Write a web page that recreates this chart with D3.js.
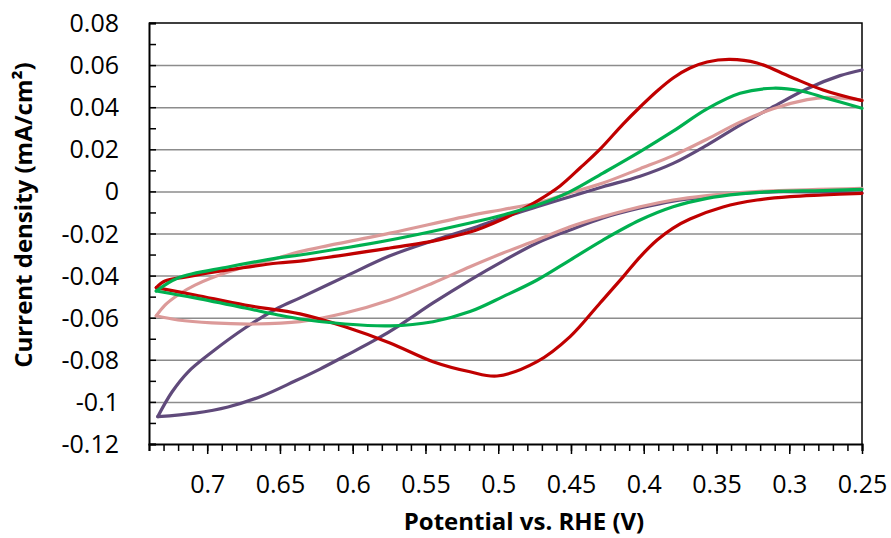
<!DOCTYPE html>
<html>
<head>
<meta charset="utf-8">
<script src="https://cdn.jsdelivr.net/npm/d3@7"></script>
<style>
  body { margin: 0; background: #fff; }
  text { font-family: "Open Sans", sans-serif; fill: #000; }
</style>
</head>
<body>
<svg id="chart" width="891" height="538"></svg>
<script>
// tick labels
const xTicks = [0.7, 0.65, 0.6, 0.55, 0.5, 0.45, 0.4, 0.35, 0.3, 0.25];
const yTicks = [0.08, 0.06, 0.04, 0.02, 0, -0.02, -0.04, -0.06, -0.08, -0.1, -0.12];

// CV loops, [potential V, current mA/cm2], forward scan 0.735 -> 0.25 then reverse
const redForward = [[0.735,-0.0457],[0.729,-0.0426],[0.7153,-0.0407],[0.6857,-0.0373],[0.6513,-0.0340],[0.6362,-0.0331],[0.5744,-0.0269],[0.5448,-0.0236],[0.5331,-0.0217],[0.5194,-0.0193],[0.5104,-0.0171],[0.4967,-0.0131],[0.4871,-0.0098],[0.4733,-0.0046],[0.4575,0.0026],[0.4438,0.0111],[0.43,0.0201],[0.4142,0.0320],[0.4025,0.0401],[0.3908,0.0477],[0.3798,0.0539],[0.3682,0.0586],[0.3565,0.0615],[0.3407,0.0627],[0.3221,0.0610],[0.2994,0.0545],[0.2768,0.0482],[0.25,0.0431]];
const redReverse = [[0.25,-0.0009],[0.2768,-0.0017],[0.2994,-0.0025],[0.3221,-0.0041],[0.3455,-0.0074],[0.3682,-0.0131],[0.3798,-0.0174],[0.3908,-0.0231],[0.4025,-0.0311],[0.4142,-0.0406],[0.43,-0.0530],[0.4506,-0.0690],[0.4733,-0.0809],[0.5008,-0.0877],[0.5194,-0.0857],[0.5448,-0.0809],[0.5744,-0.0720],[0.6053,-0.0643],[0.6362,-0.0582],[0.674,-0.0540],[0.7084,-0.0492],[0.735,-0.0457]];

const greenForward = [[0.735,-0.0473],[0.7201,-0.0411],[0.6857,-0.0359],[0.6513,-0.0316],[0.6362,-0.0302],[0.5744,-0.0231],[0.5194,-0.0150],[0.4967,-0.0112],[0.4733,-0.0065],[0.4506,-0.0001],[0.428,0.0087],[0.4025,0.0189],[0.3798,0.0286],[0.3565,0.0392],[0.3338,0.0466],[0.3111,0.0490],[0.2925,0.0478],[0.274,0.0442],[0.25,0.0395]];
const greenReverse = [[0.25,0.0010],[0.2768,0.0004],[0.3111,-0.0001],[0.3338,-0.0012],[0.3565,-0.0033],[0.3798,-0.0073],[0.4025,-0.0136],[0.428,-0.0231],[0.4506,-0.0326],[0.4733,-0.0421],[0.4967,-0.0500],[0.5194,-0.0571],[0.5448,-0.0619],[0.5744,-0.0639],[0.6053,-0.0630],[0.6362,-0.0606],[0.6513,-0.0587],[0.674,-0.0554],[0.7084,-0.0506],[0.735,-0.0473]];

const pinkForward = [[0.735,-0.0591],[0.729,-0.0540],[0.7201,-0.0492],[0.7084,-0.0445],[0.6857,-0.0383],[0.6513,-0.0316],[0.6362,-0.0286],[0.5744,-0.0198],[0.5194,-0.0115],[0.4967,-0.0086],[0.4733,-0.0055],[0.4506,-0.0007],[0.428,0.0040],[0.4025,0.0108],[0.3798,0.0170],[0.3565,0.0248],[0.3338,0.0329],[0.3111,0.0393],[0.2877,0.0436],[0.274,0.0447],[0.25,0.0434]];
const pinkReverse = [[0.25,0.0015],[0.3111,0.0003],[0.3338,-0.0006],[0.3565,-0.0020],[0.3798,-0.0041],[0.4025,-0.0073],[0.428,-0.0120],[0.4506,-0.0168],[0.4733,-0.0231],[0.4967,-0.0293],[0.5194,-0.0358],[0.5448,-0.0435],[0.5744,-0.0516],[0.6053,-0.0578],[0.6362,-0.0619],[0.6671,-0.0630],[0.6967,-0.0625],[0.7201,-0.0611],[0.735,-0.0591]];

const purpleForward = [[0.734,-0.1070],[0.7242,-0.0953],[0.7132,-0.0858],[0.6967,-0.0763],[0.674,-0.0649],[0.6513,-0.0554],[0.6362,-0.0506],[0.6053,-0.0405],[0.5744,-0.0306],[0.5448,-0.0234],[0.5194,-0.0179],[0.4967,-0.0124],[0.4733,-0.0073],[0.4506,-0.0025],[0.428,0.0022],[0.4025,0.0072],[0.3798,0.0133],[0.3565,0.0220],[0.3338,0.0315],[0.3111,0.0402],[0.2877,0.0488],[0.2651,0.0550],[0.25,0.0577]];
const purpleReverse = [[0.25,-0.0008],[0.3111,-0.0002],[0.3338,-0.0010],[0.3565,-0.0025],[0.3798,-0.0046],[0.4025,-0.0079],[0.428,-0.0126],[0.4506,-0.0183],[0.4733,-0.0245],[0.4967,-0.0331],[0.5194,-0.0421],[0.5448,-0.0530],[0.5675,-0.0635],[0.5833,-0.0701],[0.6053,-0.0782],[0.6225,-0.0844],[0.6397,-0.0901],[0.6623,-0.0972],[0.6857,-0.1024],[0.7084,-0.1053],[0.734,-0.1070]];

const series = [
    { fwd: purpleForward, rev: purpleReverse, color: "#604a7b" },
    { fwd: pinkForward, rev: pinkReverse, color: "#dc9a99" },
    { fwd: redForward, rev: redReverse, color: "#c00000" },
    { fwd: greenForward, rev: greenReverse, color: "#00b050" }
];

const plotLeft = 149, plotRight = 862, plotTop = 23, plotBottom = 444;

const svg = d3.select("#chart");

const x = d3.scaleLinear().domain([0.74, 0.25]).range([plotLeft, plotRight]);
const y = d3.scaleLinear().domain([-0.12, 0.08]).range([plotBottom, plotTop]);

// gridlines
svg.append("g")
    .attr("transform", `translate(${plotLeft},0)`)
    .call(d3.axisLeft(y).tickValues(yTicks.filter(d => d > -0.12 && d < 0.08)).tickSize(-(plotRight - plotLeft)).tickFormat(""))
    .call(g => g.select(".domain").remove())
    .selectAll("line").attr("stroke", "#8c8c8c").attr("stroke-width", 1.5);

// plot border top / right
svg.append("path")
    .attr("d", `M${plotLeft},${plotTop}H${plotRight}V${plotBottom}`)
    .attr("fill", "none").attr("stroke", "#000").attr("stroke-width", 1.5);

// y minor ticks (inside)
const yMinor = d3.range(-12, 9).map(i => i / 100);
svg.append("g")
    .attr("transform", `translate(${plotLeft},0)`)
    .call(d3.axisLeft(y).tickValues(yMinor).tickSize(-7).tickFormat(""))
    .call(g => g.select(".domain").attr("stroke-width", 2))
    .selectAll("line").attr("stroke-width", 1.5);

// x minor ticks
const xMinor = d3.range(25, 75).map(i => i / 100);
svg.append("g")
    .attr("transform", `translate(0,${plotBottom})`)
    .call(d3.axisBottom(x).tickValues(xMinor).tickSize(7).tickFormat(""))
    .call(g => g.select(".domain").attr("stroke-width", 2))
    .selectAll("line").attr("stroke-width", 1.5);

// x major ticks + labels
const xAxis = svg.append("g")
    .attr("transform", `translate(0,${plotBottom})`)
    .call(d3.axisBottom(x).tickValues(xTicks).tickSize(10).tickFormat(d => String(d)));
xAxis.select(".domain").remove();
xAxis.selectAll("line").attr("stroke-width", 1.5);
xAxis.selectAll("text")
    .attr("y", 49).attr("dy", null)
    .attr("font-size", 25)
    .style("font-family", "'Open Sans', sans-serif");

// y labels
svg.append("g").selectAll("text")
    .data(yTicks).join("text")
    .attr("x", 119)
    .attr("y", d => y(d))
    .attr("dy", "0.36em")
    .attr("text-anchor", "end")
    .attr("font-size", 25)
    .text(d => String(d));

// curves
const line = d3.line()
    .x(d => x(d[0]))
    .y(d => y(d[1]))
    .curve(d3.curveCatmullRom.alpha(0.5));

series.forEach(s => {
    [s.fwd, s.rev].forEach(arr => {
        svg.append("path")
            .datum(arr)
            .attr("d", line)
            .attr("fill", "none")
            .attr("stroke", s.color)
            .attr("stroke-width", 3.2)
            .attr("stroke-linejoin", "round")
            .attr("stroke-linecap", "round");
    });
});

// axis titles
svg.append("text")
    .attr("x", 524).attr("y", 530)
    .attr("text-anchor", "middle")
    .attr("font-size", 24).attr("font-weight", "bold")
    .text("Potential vs. RHE (V)");

svg.append("text")
    .attr("transform", "translate(32,215) rotate(-90)")
    .attr("text-anchor", "middle")
    .attr("font-size", 24).attr("font-weight", "bold")
    .text("Current density (mA/cm²)");
</script>
</body>
</html>
